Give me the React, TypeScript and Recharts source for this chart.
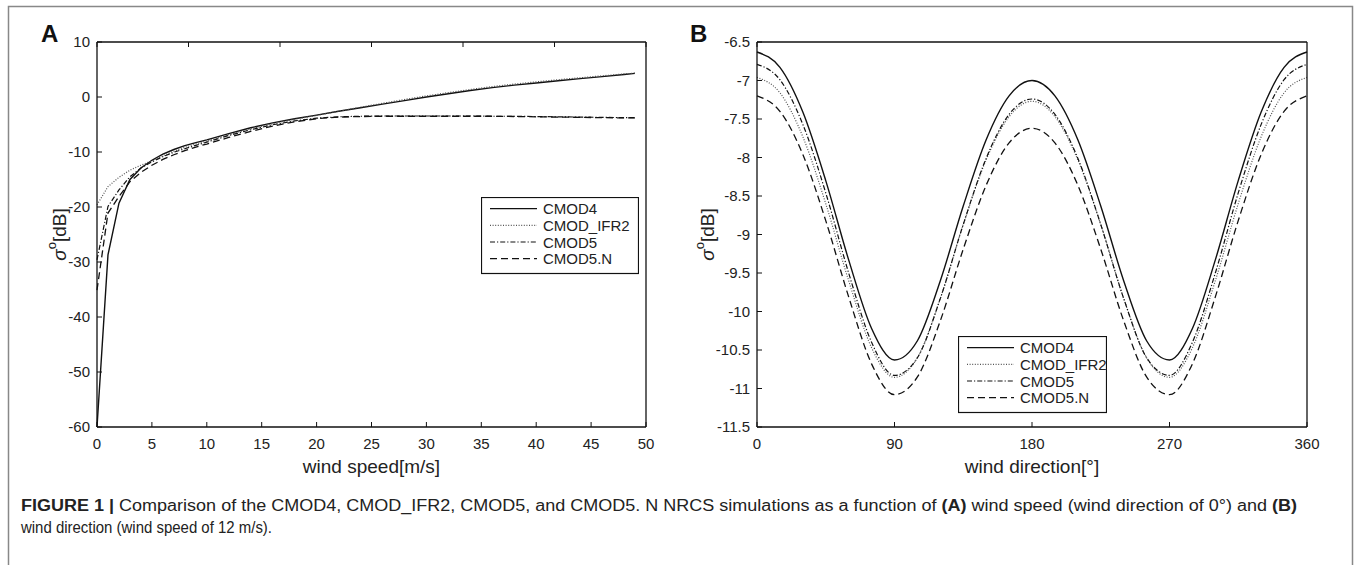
import { LineChart, Line, XAxis, YAxis } from 'recharts'

// panel A: sigma0 vs wind speed (direction 0 deg)
const speeds = [0, 1, 2, 3, 4, 5, 6, 7, 8, 9, 10, 12, 14, 16, 18, 20, 22, 24, 26, 28, 30, 32, 34, 36, 38, 40, 42, 44, 46, 48, 49]
const cmod4BySpeed = [-60, -28.7, -19.3, -15.0, -12.9, -11.5, -10.4, -9.55, -8.85, -8.3, -7.8, -6.65, -5.6, -4.7, -3.95, -3.3, -2.6, -1.95, -1.3, -0.65, 0.0, 0.6, 1.17, 1.7, 2.15, 2.55, 2.95, 3.35, 3.7, 4.1, 4.3]
const ifr2BySpeed = [-19.6, -16.3, -14.6, -13.3, -12.4, -11.6, -10.65, -9.85, -9.15, -8.55, -8.0, -6.85, -5.8, -4.85, -4.05, -3.35, -2.6, -1.85, -1.15, -0.45, 0.2, 0.8, 1.37, 1.9, 2.35, 2.75, 3.15, 3.5, 3.85, 4.2, 4.35]
const cmod5BySpeed = [-29.6, -19.9, -16.9, -14.5, -12.9, -11.8, -10.85, -10.05, -9.4, -8.8, -8.2, -7.0, -5.95, -5.05, -4.35, -3.85, -3.6, -3.5, -3.45, -3.45, -3.45, -3.45, -3.45, -3.5, -3.5, -3.55, -3.6, -3.65, -3.7, -3.75, -3.75]
const cmod5nBySpeed = [-35.1, -21.1, -18.1, -15.4, -13.7, -12.4, -11.35, -10.5, -9.75, -9.1, -8.55, -7.35, -6.25, -5.3, -4.5, -3.95, -3.65, -3.55, -3.5, -3.5, -3.5, -3.5, -3.5, -3.5, -3.55, -3.6, -3.65, -3.7, -3.75, -3.8, -3.8]

// panel B: sigma0 vs wind direction (speed 12 m/s)
const directions = [0, 15, 30, 45, 60, 75, 90, 105, 120, 135, 150, 165, 180, 195, 210, 225, 240, 255, 270, 285, 300, 315, 330, 345, 360]
const cmod4ByDir = [-6.63, -6.83, -7.41, -8.3, -9.33, -10.22, -10.63, -10.38, -9.6, -8.63, -7.77, -7.2, -7.0, -7.2, -7.77, -8.63, -9.6, -10.38, -10.63, -10.22, -9.33, -8.3, -7.41, -6.83, -6.63]
const ifr2ByDir = [-6.96, -7.16, -7.73, -8.6, -9.6, -10.47, -10.855, -10.6, -9.83, -8.87, -8.03, -7.47, -7.27, -7.47, -8.03, -8.87, -9.83, -10.6, -10.855, -10.47, -9.6, -8.6, -7.73, -7.16, -6.96]
const cmod5ByDir = [-6.79, -6.99, -7.57, -8.46, -9.5, -10.4, -10.83, -10.6, -9.83, -8.87, -8.01, -7.44, -7.24, -7.44, -8.01, -8.87, -9.83, -10.6, -10.83, -10.4, -9.5, -8.46, -7.57, -6.99, -6.79]
const cmod5nByDir = [-7.2, -7.4, -7.96, -8.82, -9.81, -10.68, -11.08, -10.85, -10.12, -9.19, -8.36, -7.81, -7.62, -7.81, -8.36, -9.19, -10.12, -10.85, -11.08, -10.68, -9.81, -8.82, -7.96, -7.4, -7.2]

const speedTicks = [0, 5, 10, 15, 20, 25, 30, 35, 40, 45, 50]
const speedYTicks = [-60, -50, -40, -30, -20, -10, 0, 10]
const dirTicks = [0, 90, 180, 270, 360]
const dirYTicks = [-11.5, -11, -10.5, -10, -9.5, -9, -8.5, -8, -7.5, -7, -6.5]

const series = [
  { key: 'cmod4', name: 'CMOD4', dash: undefined, width: 1.4, color: '#111' },
  { key: 'ifr2', name: 'CMOD_IFR2', dash: '1 1.6', width: 1.2, color: '#555' },
  { key: 'cmod5', name: 'CMOD5', dash: '5 2 1.2 2', width: 1.2, color: '#111' },
  { key: 'cmod5n', name: 'CMOD5.N', dash: '7 4', width: 1.3, color: '#111' },
]

const speedData = speeds.map((s, i) => ({
  x: s,
  cmod4: cmod4BySpeed[i],
  ifr2: ifr2BySpeed[i],
  cmod5: cmod5BySpeed[i],
  cmod5n: cmod5nBySpeed[i],
}))

const dirData = directions.map((d, i) => ({
  x: d,
  cmod4: cmod4ByDir[i],
  ifr2: ifr2ByDir[i],
  cmod5: cmod5ByDir[i],
  cmod5n: cmod5nByDir[i],
}))

const FONT = "'Liberation Sans', Arial, Helvetica, sans-serif"
const tickStyle = { fill: '#222', fontSize: 15, fontFamily: FONT }
const axisLine = { stroke: '#111', strokeWidth: 1.3 }

function SigmaTitle({ viewBox, gap }: any) {
  const cx = viewBox.x + viewBox.width - gap
  const cy = viewBox.y + viewBox.height / 2
  return (
    <text
      x={cx}
      y={cy}
      transform={`rotate(-90 ${cx} ${cy})`}
      textAnchor="middle"
      dominantBaseline="central"
      fill="#222"
      fontSize={19}
      fontFamily={FONT}
    >
      <tspan fontStyle="italic">σ</tspan>
      <tspan fontSize={13} dy={-8}>o</tspan>
      <tspan dy={8}>[dB]</tspan>
    </text>
  )
}

function LegendBox({ left, top, width }: { left: number; top: number; width: number }) {
  return (
    <svg style={{ position: 'absolute', left, top }} width={width} height={78}>
      <rect x={0.5} y={0.5} width={width - 1} height={76} fill="#fff" stroke="#111" strokeWidth={1.2} />
      {series.map((s, i) => {
        const y = 11.6 + 16.7 * i
        return (
          <g key={s.key}>
            <line x1={9} x2={56} y1={y} y2={y} stroke={s.color} strokeWidth={s.width} strokeDasharray={s.dash} />
            <text x={62} y={y} dominantBaseline="central" fontSize={15} fontFamily={FONT} fill="#222">
              {s.name}
            </text>
          </g>
        )
      })}
    </svg>
  )
}

interface PanelProps {
  data: any[]
  width: number
  rightMargin: number
  xDomain: [number, number]
  xTicks: number[]
  yDomain: [number, number]
  yTicks: number[]
  xTitle: string
  titleGap: number
  curve: 'linear' | 'monotone'
}

function Panel({ data, width, rightMargin, xDomain, xTicks, yDomain, yTicks, xTitle, titleGap, curve }: PanelProps) {
  return (
    <LineChart width={width} height={480} data={data} margin={{ top: 41, right: rightMargin, bottom: 0, left: 0 }}>
      <XAxis
        dataKey="x"
        type="number"
        domain={xDomain}
        ticks={xTicks}
        height={53}
        tickSize={-5}
        tickMargin={16}
        tick={tickStyle}
        axisLine={axisLine}
        tickLine={{ stroke: '#111' }}
        label={{ value: xTitle, position: 'insideBottom', offset: 7, fill: '#222', fontSize: 19, fontFamily: FONT }}
      />
      <XAxis
        xAxisId="top"
        orientation="top"
        type="number"
        domain={xDomain}
        ticks={xTicks}
        height={1}
        tickSize={-5}
        tickFormatter={() => ''}
        axisLine={axisLine}
        tickLine={{ stroke: '#111' }}
      />
      <YAxis
        type="number"
        domain={yDomain}
        ticks={yTicks}
        width={97}
        tickSize={-5}
        tickMargin={12}
        tick={tickStyle}
        axisLine={axisLine}
        tickLine={{ stroke: '#111' }}
        label={<SigmaTitle gap={titleGap} />}
      />
      <YAxis
        yAxisId="right"
        orientation="right"
        type="number"
        domain={yDomain}
        ticks={yTicks}
        width={1}
        tickSize={-5}
        tickFormatter={() => ''}
        axisLine={axisLine}
        tickLine={{ stroke: '#111' }}
      />
      {series.map((s) => (
        <Line
          key={s.key}
          type={curve}
          dataKey={s.key}
          name={s.name}
          stroke={s.color}
          strokeWidth={s.width}
          strokeDasharray={s.dash}
          dot={false}
          activeDot={false}
          isAnimationActive={false}
        />
      ))}
    </LineChart>
  )
}

const CAPTION_FONT = "'Liberation Sans', Arial, sans-serif"

export default function App() {
  return (
    <div
      style={{
        position: 'absolute',
        left: 0,
        top: 0,
        width: 1356,
        height: 565,
        background: '#fff',
        overflow: 'hidden',
        fontFamily: FONT,
      }}
    >
      <div style={{ position: 'absolute', left: 0, top: 0 }}>
        <Panel
          data={speedData}
          width={660}
          rightMargin={13}
          xDomain={[0, 50]}
          xTicks={speedTicks}
          yDomain={[-60, 10]}
          yTicks={speedYTicks}
          xTitle="wind speed[m/s]"
          titleGap={38}
          curve="linear"
        />
      </div>
      <div style={{ position: 'absolute', left: 660, top: 0 }}>
        <Panel
          data={dirData}
          width={680}
          rightMargin={32}
          xDomain={[0, 360]}
          xTicks={dirTicks}
          yDomain={[-11.5, -6.5]}
          yTicks={dirYTicks}
          xTitle="wind direction[°]"
          titleGap={50}
          curve="monotone"
        />
      </div>

      <LegendBox left={481} top={197} width={158} />
      <LegendBox left={958} top={336} width={149} />

      <svg style={{ position: 'absolute', left: 0, top: 0, pointerEvents: 'none' }} width={1356} height={565}>
        <path d="M8.5,570 V6.5 H1352.5 V570" fill="none" stroke="#888" strokeWidth={1.5} />
        <text x={41} y={42} fontSize={24} fontWeight="bold" fontFamily={FONT} fill="#111">A</text>
        <text x={690} y={42} fontSize={24} fontWeight="bold" fontFamily={FONT} fill="#111">B</text>
        <text
          x={21}
          y={511}
          fontSize={16}
          fill="#222"
          fontFamily={CAPTION_FONT}
          textLength={1276}
          lengthAdjust="spacingAndGlyphs"
        >
          <tspan fontWeight="bold">FIGURE 1 | </tspan>
          <tspan>Comparison of the CMOD4, CMOD_IFR2, CMOD5, and CMOD5. N NRCS simulations as a function of </tspan>
          <tspan fontWeight="bold">(A)</tspan>
          <tspan> wind speed (wind direction of 0°) and </tspan>
          <tspan fontWeight="bold">(B)</tspan>
        </text>
        <text
          x={21}
          y={533}
          fontSize={16}
          fill="#222"
          fontFamily={CAPTION_FONT}
          textLength={251}
          lengthAdjust="spacingAndGlyphs"
        >
          wind direction (wind speed of 12 m/s).
        </text>
      </svg>
    </div>
  )
}
